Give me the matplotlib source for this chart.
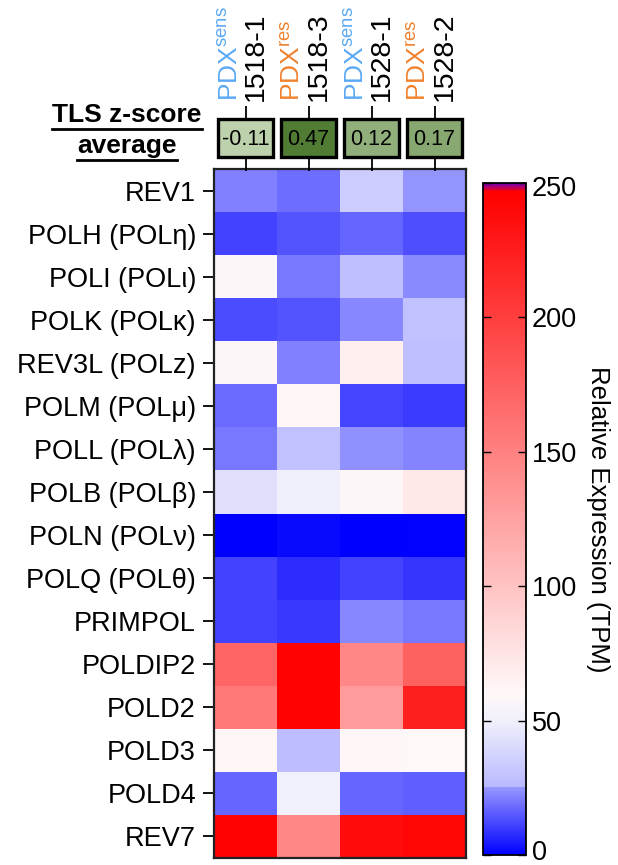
import numpy as np
import matplotlib
matplotlib.use("Agg")
import matplotlib.pyplot as plt
import matplotlib.transforms as mtransforms
from matplotlib.colors import LinearSegmentedColormap, Normalize
from matplotlib.patches import Rectangle
from matplotlib.lines import Line2D

plt.rcParams['font.family'] = ['Liberation Sans', 'DejaVu Sans']
plt.rcParams['mathtext.default'] = 'regular'

# ---------------- data ----------------
genes = ["REV1", "POLH (POLη)", "POLI (POLι)", "POLK (POLκ)", "REV3L (POLz)",
         "POLM (POLμ)", "POLL (POLλ)", "POLB (POLβ)", "POLN (POLν)", "POLQ (POLθ)",
         "PRIMPOL", "POLDIP2", "POLD2", "POLD3", "POLD4", "REV7"]
samples = ["1518-1", "1518-3", "1528-1", "1528-2"]
pdx_status = ["sens", "res", "sens", "res"]
zscores = [-0.11, 0.47, 0.12, 0.17]

s_1518_1 = [21.7, 11, 58, 12.5, 58, 18, 20, 43, 0, 11, 11, 171, 156, 62, 17, 245]
s_1518_3 = [18.3, 14, 20, 14, 21.7, 62, 29, 50, 1.5, 7.5, 9.5, 245, 245, 27, 51, 145]
s_1528_1 = [34, 17, 28, 22.5, 67, 11.7, 24, 58, 0, 11, 22.5, 145, 130, 61, 17, 239]
s_1528_2 = [24.8, 13, 23, 29, 28, 10, 22, 72, 0.3, 9, 20, 175, 224, 60, 16, 243]

cbar_ticks = [0, 50, 100, 150, 200, 250]

# ---------------- colours ----------------
status_colors = {"sens": "#5aa9f5", "res": "#f0822e"}
vmax = 250.0
cmap = LinearSegmentedColormap.from_list("tpm", [
    (0.0, (0/255, 0/255, 1.0)),
    (25/vmax, (150/255, 150/255, 1.0)),
    (25.3/vmax, (185/255, 185/255, 1.0)),
    (50/vmax, (240/255, 240/255, 252/255)),
    (60/vmax, (1.0, 248/255, 248/255)),
    (247/vmax, (1.0, 0.0, 0.0)),
    (1.0, (110/255, 0.0, 190/255)),
], N=1024)
zcmap = LinearSegmentedColormap.from_list("z", [(205/255, 222/255, 190/255), (75/255, 120/255, 45/255)])
znorm = Normalize(-0.2, 0.5)

W, H = 618, 865
fig = plt.figure(figsize=(W/100, H/100), dpi=100)

def rect(x0, y0, x1, y1):
    return [x0/W, 1 - y1/H, (x1-x0)/W, (y1-y0)/H]

FS = 19.5

# ---------------- heatmap ----------------
data = np.array([s_1518_1, s_1518_3, s_1528_1, s_1528_2]).T
ax = fig.add_axes(rect(214, 169, 466, 858))
ax.pcolormesh(np.arange(len(samples)+1), np.arange(len(genes)+1), data,
              cmap=cmap, vmin=0, vmax=vmax)
ax.set_xlim(0, len(samples))
ax.set_ylim(len(genes), 0)
ax.set_yticks(np.arange(len(genes)) + 0.5)
ax.set_yticklabels(genes, fontsize=FS)
ax.set_xticks([])
ax.tick_params(axis='y', direction='out', length=8, width=1.3, pad=5)
for sp in ax.spines.values():
    sp.set_linewidth(1.6)
    sp.set_color('#222222')

# ---------------- z-score boxes ----------------
zax = fig.add_axes(rect(214, 118, 466, 158))
zax.set_xlim(0, len(samples))
zax.set_ylim(0, 1)
for i, z in enumerate(zscores):
    zax.add_patch(Rectangle((i + 0.07, 0.02), 0.86, 0.96, facecolor=zcmap(znorm(z)),
                            edgecolor='black', linewidth=2.4, clip_on=False))
    zax.text(i + 0.5, 0.47, f"{z:.2f}", ha='center', va='center', fontsize=15.5)
zax.set_xticks(np.arange(len(samples)) + 0.5)
zax.set_xticklabels([])
zax.set_yticks([])
zax.tick_params(axis='x', top=True, bottom=True, direction='out', length=9, width=1.3)
for sp in zax.spines.values():
    sp.set_visible(False)

# ---------------- column headers ----------------
base = mtransforms.blended_transform_factory(ax.transData, fig.transFigure)
ybot = 1 - 101/H
for i, (s, st) in enumerate(zip(samples, pdx_status)):
    t1 = base + mtransforms.ScaledTranslation(-15/100, 0, fig.dpi_scale_trans)
    t2 = base + mtransforms.ScaledTranslation(10/100, 0, fig.dpi_scale_trans)
    fig.text(i + 0.5, ybot, "PDX$^{" + st + "}$", transform=t1, rotation=90,
             ha='center', va='bottom', fontsize=19, color=status_colors[st])
    fig.text(i + 0.5, ybot, s, transform=t2, rotation=90,
             ha='center', va='bottom', fontsize=20.5, color='black')

# ---------------- TLS label ----------------
tl1 = fig.text(127/W, 1 - 122/H, "TLS z-score", ha='center', va='baseline',
               fontsize=19, fontweight='bold')
tl2 = fig.text(127/W, 1 - 153/H, "average", ha='center', va='baseline',
               fontsize=19, fontweight='bold')
fig.canvas.draw()
r = fig.canvas.get_renderer()
for t, yb in [(tl1, 122), (tl2, 153)]:
    bb = t.get_window_extent(r)
    yl = 1 - (yb + 6.5)/H
    fig.add_artist(Line2D([bb.x0/W, bb.x1/W], [yl, yl], color='black', linewidth=2.0,
                          transform=fig.transFigure))

# ---------------- colorbar ----------------
cax = fig.add_axes(rect(483, 183, 526, 855))
sm = plt.cm.ScalarMappable(cmap=cmap, norm=Normalize(0, vmax))
cb = fig.colorbar(sm, cax=cax, ticks=cbar_ticks)
cb.outline.set_linewidth(1.3)
cb.ax.tick_params(labelsize=FS, direction='in', left=True, right=True, length=6, width=1.0, pad=4)
cb.set_label("Relative Expression (TPM)", rotation=270, fontsize=18.5, labelpad=24)
fig.canvas.draw()
labs = cb.ax.get_yticklabels()
labs[0].set_transform(labs[0].get_transform() + mtransforms.ScaledTranslation(0, 5/100, fig.dpi_scale_trans))
labs[-1].set_transform(labs[-1].get_transform() + mtransforms.ScaledTranslation(0, -3/100, fig.dpi_scale_trans))

fig.savefig("out.png", dpi=100)
